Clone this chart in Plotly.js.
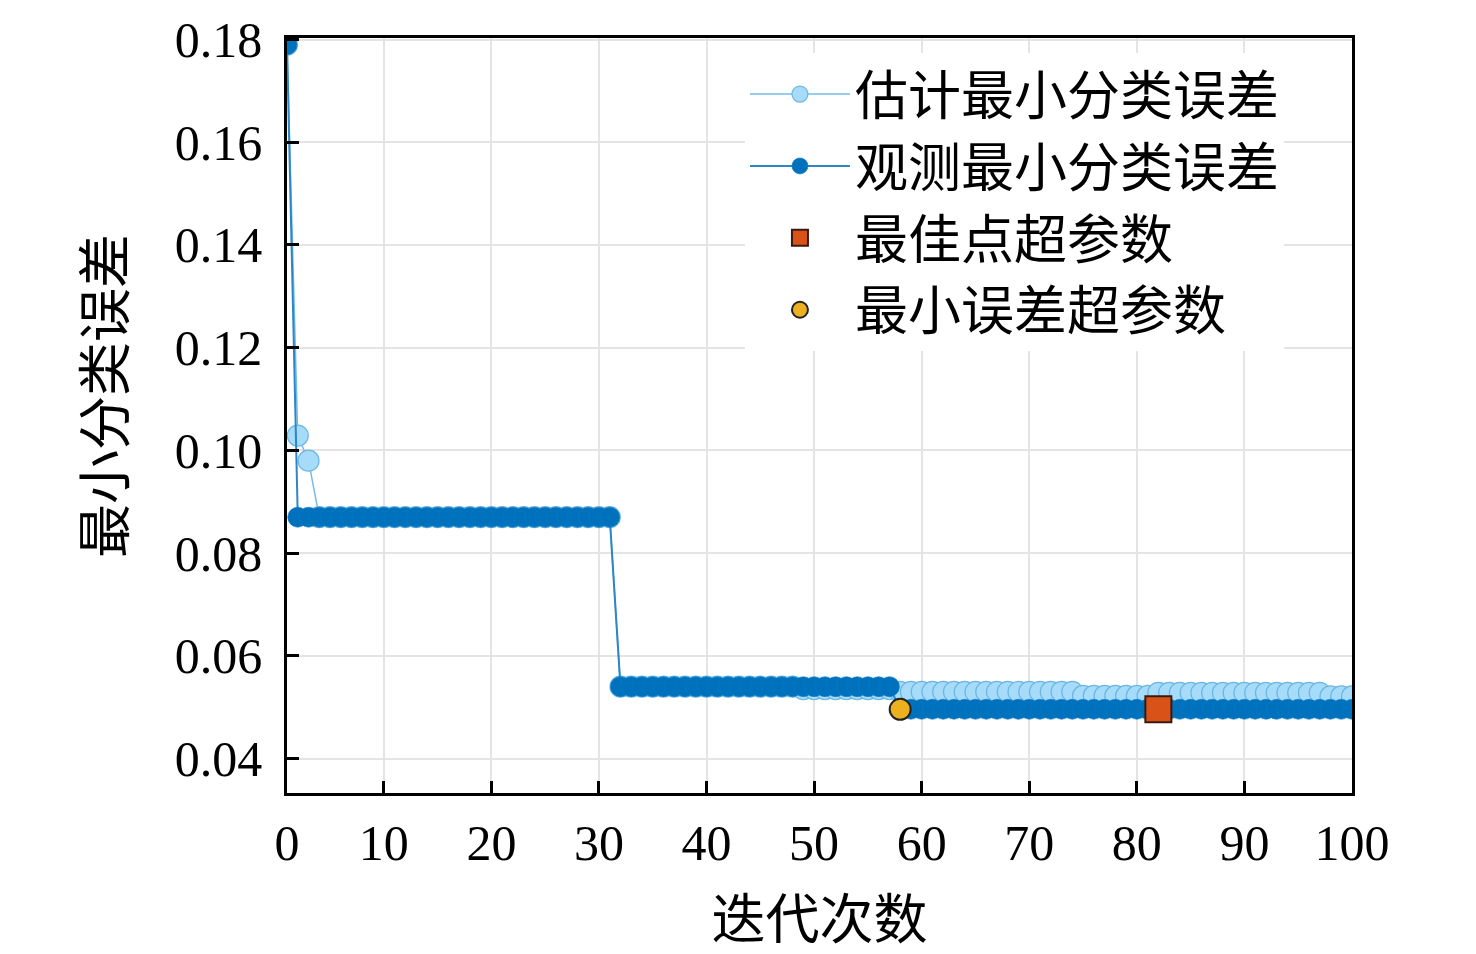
<!DOCTYPE html>
<html>
<head>
<meta charset="utf-8">
<script src="https://cdn.plot.ly/plotly-3.0.1.min.js"></script>
<style>
  html, body { margin: 0; padding: 0; background: #fff; }
  #plotDiv { width: 1476px; height: 954px; }
</style>
</head>
<body>
<div id="plotDiv"></div>
<script>
var iterations = [
  1, 2, 3, 4, 5, 6, 7, 8, 9, 10,
  11, 12, 13, 14, 15, 16, 17, 18, 19, 20,
  21, 22, 23, 24, 25, 26, 27, 28, 29, 30,
  31, 32, 33, 34, 35, 36, 37, 38, 39, 40,
  41, 42, 43, 44, 45, 46, 47, 48, 49, 50,
  51, 52, 53, 54, 55, 56, 57, 58, 59, 60,
  61, 62, 63, 64, 65, 66, 67, 68, 69, 70,
  71, 72, 73, 74, 75, 76, 77, 78, 79, 80,
  81, 82, 83, 84, 85, 86, 87, 88, 89, 90,
  91, 92, 93, 94, 95, 96, 97, 98, 99, 100
];

// observed minimum classification error
var observedMin = [
  0.179, 0.087, 0.087, 0.087, 0.087, 0.087, 0.087, 0.087, 0.087, 0.087,
  0.087, 0.087, 0.087, 0.087, 0.087, 0.087, 0.087, 0.087, 0.087, 0.087,
  0.087, 0.087, 0.087, 0.087, 0.087, 0.087, 0.087, 0.087, 0.087, 0.087,
  0.087, 0.054, 0.054, 0.054, 0.054, 0.054, 0.054, 0.054, 0.054, 0.054,
  0.054, 0.054, 0.054, 0.054, 0.054, 0.054, 0.054, 0.054, 0.054, 0.054,
  0.054, 0.054, 0.054, 0.054, 0.054, 0.054, 0.054, 0.0496, 0.0496, 0.0496,
  0.0496, 0.0496, 0.0496, 0.0496, 0.0496, 0.0496, 0.0496, 0.0496, 0.0496, 0.0496,
  0.0496, 0.0496, 0.0496, 0.0496, 0.0496, 0.0496, 0.0496, 0.0496, 0.0496, 0.0496,
  0.0496, 0.0496, 0.0496, 0.0496, 0.0496, 0.0496, 0.0496, 0.0496, 0.0496, 0.0496,
  0.0496, 0.0496, 0.0496, 0.0496, 0.0496, 0.0496, 0.0496, 0.0496, 0.0496, 0.0496
];

// estimated minimum classification error
var estimatedMin = [
  0.179, 0.1029, 0.098, 0.087, 0.087, 0.087, 0.087, 0.087, 0.087, 0.087,
  0.087, 0.087, 0.087, 0.087, 0.087, 0.087, 0.087, 0.087, 0.087, 0.087,
  0.087, 0.087, 0.087, 0.087, 0.087, 0.087, 0.087, 0.087, 0.087, 0.087,
  0.087, 0.054, 0.054, 0.054, 0.054, 0.054, 0.054, 0.054, 0.054, 0.054,
  0.054, 0.054, 0.054, 0.054, 0.054, 0.054, 0.054, 0.054, 0.0535, 0.0535,
  0.0535, 0.0535, 0.0535, 0.0535, 0.0535, 0.0535, 0.0535, 0.053, 0.053, 0.053,
  0.053, 0.053, 0.053, 0.053, 0.053, 0.053, 0.053, 0.053, 0.053, 0.053,
  0.053, 0.053, 0.053, 0.053, 0.0522, 0.0522, 0.0522, 0.0522, 0.0522, 0.0522,
  0.0522, 0.0528, 0.0528, 0.0528, 0.0528, 0.0528, 0.0528, 0.0528, 0.0528, 0.0528,
  0.0528, 0.0528, 0.0528, 0.0528, 0.0528, 0.0528, 0.0528, 0.0521, 0.0521, 0.0521
];

var bestPointX = [82];
var bestPointY = [0.0496];
var minErrorX = [58];
var minErrorY = [0.0496];

var xTickVals = [1, 10, 20, 30, 40, 50, 60, 70, 80, 90, 100];
var xTickText = ['0', '10', '20', '30', '40', '50', '60', '70', '80', '90', '100'];
var yTickVals = [0.04, 0.06, 0.08, 0.10, 0.12, 0.14, 0.16, 0.18];

var serif = 'Liberation Serif, "Times New Roman", serif';
var cjk = 'Liberation Serif, "Noto Sans CJK SC", serif';

var data = [
  {
    type: 'scatter',
    mode: 'lines+markers',
    name: '估计最小分类误差',
    x: iterations,
    y: estimatedMin,
    line: { color: '#74bde6', width: 1.5 },
    marker: { size: 21, color: '#a6dcfa', line: { color: '#6cb6e2', width: 1.2 } }
  },
  {
    type: 'scatter',
    mode: 'lines+markers',
    name: '观测最小分类误差',
    x: iterations,
    y: observedMin,
    line: { color: '#2d86c8', width: 2 },
    marker: { size: 20, color: '#0072bd', line: { color: '#0a78c2', width: 0.6 } }
  },
  {
    type: 'scatter',
    mode: 'markers',
    name: '最佳点超参数',
    x: bestPointX,
    y: bestPointY,
    marker: { symbol: 'square', size: 26, color: '#d95319', line: { color: '#3a1a10', width: 2 } }
  },
  {
    type: 'scatter',
    mode: 'markers',
    name: '最小误差超参数',
    x: minErrorX,
    y: minErrorY,
    marker: { symbol: 'circle', size: 21, color: '#edb120', line: { color: '#222', width: 2 } }
  }
];

var layout = {
  width: 1476,
  height: 954,
  paper_bgcolor: '#fff',
  plot_bgcolor: '#fff',
  margin: { l: 287, r: 124, t: 38, b: 161 },
  showlegend: true,
  font: { family: serif, color: '#000' },
  xaxis: {
    range: [1, 100],
    tickvals: xTickVals,
    ticktext: xTickText,
    ticks: 'inside',
    ticklen: 12,
    tickwidth: 2.5,
    tickcolor: '#000',
    ticklabelstandoff: 4,
    showline: true,
    linecolor: '#000',
    linewidth: 2.5,
    mirror: true,
    showgrid: true,
    gridcolor: '#e4e4e4',
    gridwidth: 1.5,
    zeroline: false,
    tickfont: { family: serif, size: 50, color: '#000' },
    title: { text: '迭代次数', font: { family: cjk, size: 54, color: '#000' }, standoff: 32 }
  },
  yaxis: {
    range: [0.0333, 0.1803],
    tickvals: yTickVals,
    tickformat: '.2f',
    ticks: 'inside',
    ticklen: 12,
    tickwidth: 2.5,
    tickcolor: '#000',
    ticklabelstandoff: 12,
    showline: true,
    linecolor: '#000',
    linewidth: 2.5,
    mirror: true,
    showgrid: true,
    gridcolor: '#e4e4e4',
    gridwidth: 1.5,
    zeroline: false,
    tickfont: { family: serif, size: 50, color: '#000' }
  },
  annotations: [
    {
      text: '最小分类误差',
      xref: 'paper', yref: 'paper',
      x: -0.169, y: 0.526,
      xanchor: 'center', yanchor: 'middle',
      textangle: -90,
      showarrow: false,
      font: { family: cjk, size: 54, color: '#000' }
    }
  ],
  legend: {
    x: 0.43,
    y: 0.98,
    xanchor: 'left',
    yanchor: 'top',
    bgcolor: '#fff',
    borderwidth: 0,
    itemwidth: 100,
    font: { family: cjk, size: 53, color: '#000' }
  }
};

Plotly.newPlot('plotDiv', data, layout, { displayModeBar: false });
</script>
</body>
</html>
